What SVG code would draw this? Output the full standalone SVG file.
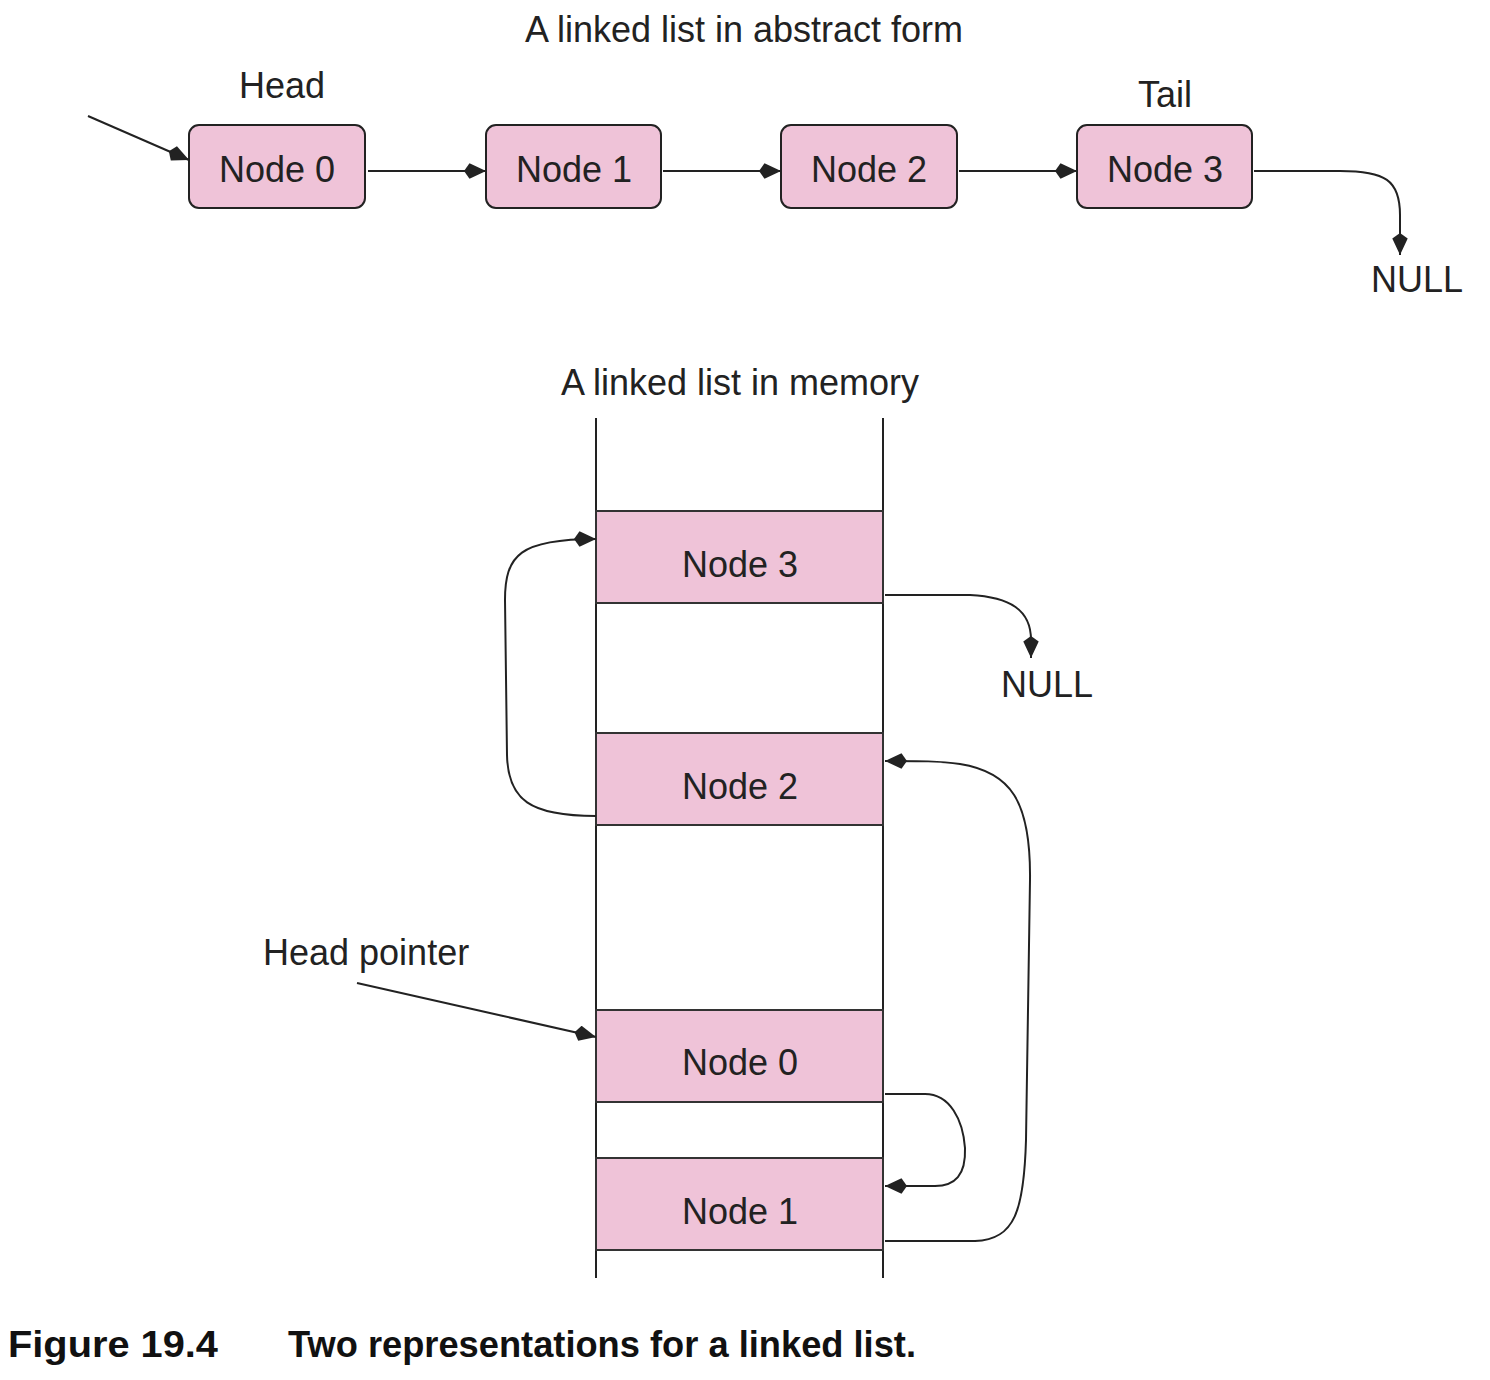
<svg xmlns="http://www.w3.org/2000/svg" width="1490" height="1380" viewBox="0 0 1490 1380">
<defs>
<style>
text{font-family:"Liberation Sans",Arial,sans-serif;fill:#222;}
.lbl{font-size:36px;}
.nt{font-size:36px;text-anchor:middle;}
.node{fill:#efc3d8;stroke:#222;stroke-width:2;}
.mem{fill:#efc3d8;stroke:#333;stroke-width:2;}
.con{fill:none;stroke:#222;stroke-width:2;}
.cap{font-size:36px;font-weight:bold;fill:#111;}
</style>
<marker id="ahb" viewBox="0 0 20 14" refX="20" refY="7" markerWidth="22" markerHeight="16" markerUnits="userSpaceOnUse" orient="auto">
<path d="M0,7 L5,0 L20,7 L5,14 z" fill="#222"/>
</marker>
</defs>
<rect width="1490" height="1380" fill="#fff"/>

<text class="lbl" x="744" y="42" text-anchor="middle">A linked list in abstract form</text>
<text class="lbl" x="282" y="98" text-anchor="middle">Head</text>
<text class="lbl" x="1165" y="107" text-anchor="middle">Tail</text>
<text class="lbl" x="1417" y="292" text-anchor="middle">NULL</text>

<g id="a-node0"><rect class="node" x="189" y="125" width="176" height="83" rx="10"/><text class="nt" x="277" y="182">Node 0</text></g>
<g id="a-node1"><rect class="node" x="486" y="125" width="175" height="83" rx="10"/><text class="nt" x="574" y="182">Node 1</text></g>
<g id="a-node2"><rect class="node" x="781" y="125" width="176" height="83" rx="10"/><text class="nt" x="869" y="182">Node 2</text></g>
<g id="a-node3"><rect class="node" x="1077" y="125" width="175" height="83" rx="10"/><text class="nt" x="1165" y="182">Node 3</text></g>

<text class="lbl" x="740" y="395" text-anchor="middle">A linked list in memory</text>
<text class="lbl" x="263" y="965">Head pointer</text>
<text class="lbl" x="1047" y="697" text-anchor="middle">NULL</text>

<g id="memory-column">
<line class="con" x1="596" y1="418" x2="596" y2="1278"/>
<line class="con" x1="883" y1="418" x2="883" y2="1278"/>
</g>
<g id="m-node3"><rect class="mem" x="596" y="511" width="287" height="92"/><text class="nt" x="740" y="577">Node 3</text></g>
<g id="m-node2"><rect class="mem" x="596" y="733" width="287" height="92"/><text class="nt" x="740" y="799">Node 2</text></g>
<g id="m-node0"><rect class="mem" x="596" y="1010" width="287" height="92"/><text class="nt" x="740" y="1075">Node 0</text></g>
<g id="m-node1"><rect class="mem" x="596" y="1158" width="287" height="92"/><text class="nt" x="740" y="1224">Node 1</text></g>

<g id="connectors">
<path class="con" d="M88,116 L189,160" marker-end="url(#ahb)"/>
<path class="con" d="M368,171 L486,171" marker-end="url(#ahb)"/>
<path class="con" d="M663,171 L781,171" marker-end="url(#ahb)"/>
<path class="con" d="M959,171 L1077,171" marker-end="url(#ahb)"/>
<path class="con" d="M1254,171 L1340,171 C1385,171 1400,180 1400,215 L1400,255" marker-end="url(#ahb)"/>

<path class="con" d="M596,816 C530,816 508,800 507,755 L505,600 C505,555 520,539 596,539" marker-end="url(#ahb)"/>
<path class="con" d="M885,595 L970,595 C1010,597 1031,610 1031,640 L1031,658" marker-end="url(#ahb)"/>
<path class="con" d="M885,1241 L975,1241 C1015,1240 1024,1210 1026,1140 L1030,880 C1031,800 1010,772 960,764 C940,761 920,761 885,761" marker-end="url(#ahb)"/>
<path class="con" d="M885,1094 L925,1094 C950,1094 963,1120 965,1148 C966,1175 955,1186 935,1186 L885,1186" marker-end="url(#ahb)"/>
<path class="con" d="M357,983 L596,1037" marker-end="url(#ahb)"/>
</g>

<text class="cap" x="8" y="1357" textLength="210" lengthAdjust="spacingAndGlyphs">Figure 19.4</text>
<text class="cap" x="288" y="1357" textLength="628" lengthAdjust="spacingAndGlyphs">Two representations for a linked list.</text>
</svg>
